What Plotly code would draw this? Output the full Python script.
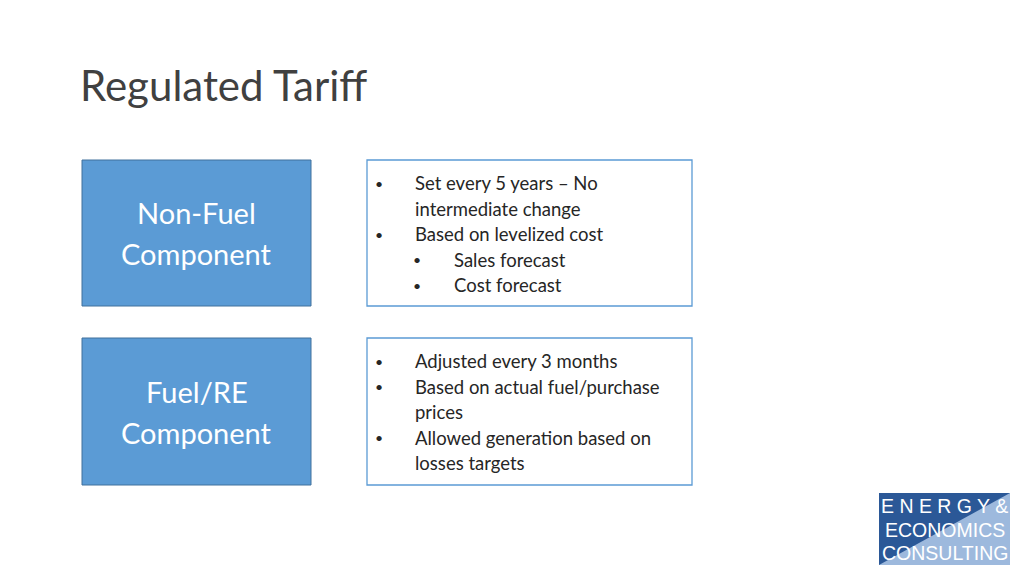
import plotly.graph_objects as go

title = "Regulated Tariff"
components = [["Non-Fuel", "Component"], ["Fuel/RE", "Component"]]
# (level, text) per line; level 0 bullet, -1 continuation, 1 sub-bullet
box1_lines = [(0, "Set every 5 years – No"), (-1, "intermediate change"), (0, "Based on levelized cost"),
              (1, "Sales forecast"), (1, "Cost forecast")]
box2_lines = [(0, "Adjusted every 3 months"), (0, "Based on actual fuel/purchase"), (-1, "prices"),
              (0, "Allowed generation based on"), (-1, "losses targets")]
logo_lines = ["E N E R G Y &", "ECONOMICS", "CONSULTING"]

FONT = "Lato, Open Sans, sans-serif"
fig = go.Figure()
fig.add_trace(go.Scatter(x=[0, 1024], y=[0, 576], mode="markers", marker=dict(opacity=0), hoverinfo="skip", showlegend=False))
shapes, ann = [], []

ann.append(dict(x=78, y=85, text=title, xanchor="left", yanchor="middle", showarrow=False,
                font=dict(family=FONT, size=42, color="#404040")))

for (top, bot), comp, lines in zip([(160, 306), (338, 485)], components, [box1_lines, box2_lines]):
    shapes.append(dict(type="rect", x0=82, x1=311, y0=top, y1=bot, fillcolor="#5B9BD5", line=dict(color="#41719C", width=1)))
    mid = (top + bot) / 2
    for j, c in enumerate(comp):
        ann.append(dict(x=196.5, y=mid - 20.5 + j * 41, text=c, showarrow=False, xanchor="center", yanchor="middle",
                        font=dict(family=FONT, size=29, color="white")))
    shapes.append(dict(type="rect", x0=367, x1=692, y0=top, y1=bot, fillcolor="white", line=dict(color="#5B9BD5", width=1.3)))
    y = top + 23
    for lvl, txt in lines:
        if lvl == 0:
            ann.append(dict(x=379, y=y, text="•", showarrow=False, xanchor="center", yanchor="middle", font=dict(family=FONT, size=14, color="#262626")))
        if lvl == 1:
            ann.append(dict(x=417, y=y, text="•", showarrow=False, xanchor="center", yanchor="middle", font=dict(family=FONT, size=14, color="#262626")))
        tx = 452 if lvl >= 1 else 413
        ann.append(dict(x=tx, y=y, text=txt, showarrow=False, xanchor="left", yanchor="middle", font=dict(family=FONT, size=18.5, color="#262626")))
        y += 25.5

# logo
shapes.append(dict(type="rect", x0=879, x1=1010, y0=493, y1=565, fillcolor="#9DB9DD", line=dict(width=0)))
shapes.append(dict(type="path", path="M 879 493 L 1010 493 L 879 565 Z", fillcolor="#2B5897", line=dict(width=0)))
for i, t in enumerate(logo_lines):
    ann.append(dict(x=944.5, y=506 + i * 23.5, text=t, showarrow=False, xanchor="center", yanchor="middle",
                    font=dict(family="Liberation Sans, Arial", size=19.5, color="white")))

fig.update_layout(width=1024, height=576, margin=dict(l=0, r=0, t=0, b=0), plot_bgcolor="white", paper_bgcolor="white",
                  xaxis=dict(range=[0, 1024], visible=False, fixedrange=True),
                  yaxis=dict(range=[576, 0], visible=False, fixedrange=True),
                  shapes=shapes, annotations=ann, showlegend=False)
fig.write_html("out.html", config={"displayModeBar": False},
               post_script="document.body.style.margin='0';document.body.style.overflow='hidden';")
